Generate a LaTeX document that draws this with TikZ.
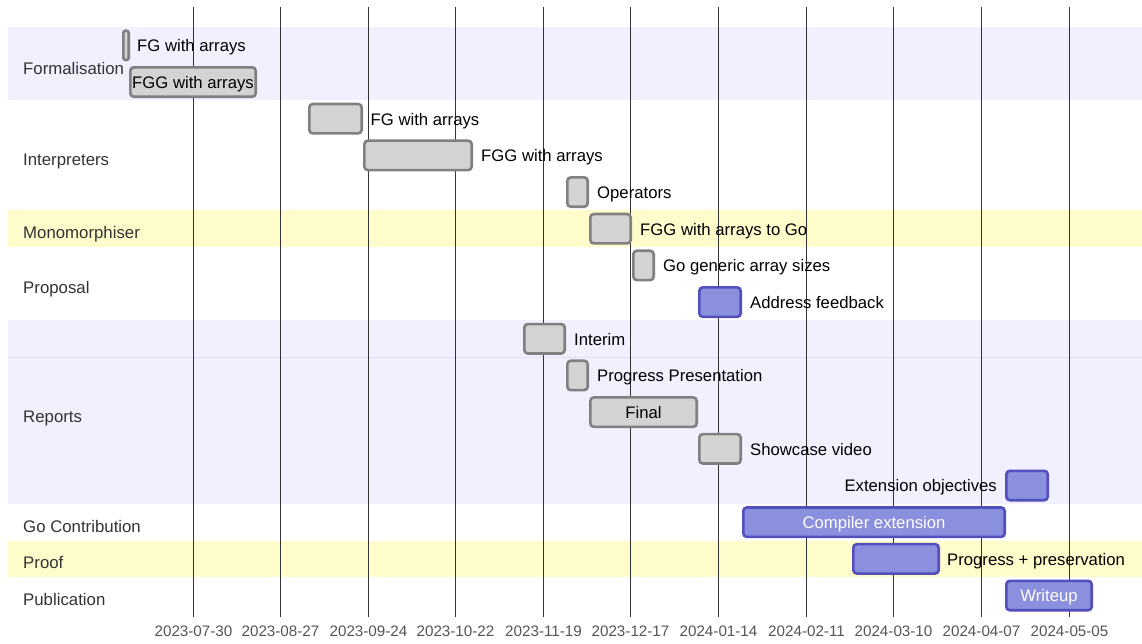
\documentclass[tikz,border=0pt]{standalone}
\usepackage{fontspec}
\setmainfont{Liberation Sans}
\definecolor{lav}{HTML}{F0F0FF}
\definecolor{yel}{HTML}{FFFCCC}
\definecolor{gridc}{HTML}{333333}
\definecolor{donefill}{HTML}{D3D3D3}
\definecolor{donedraw}{HTML}{808080}
\definecolor{actfill}{HTML}{8A90DD}
\definecolor{actdraw}{HTML}{534FBC}
\definecolor{sectext}{HTML}{333333}
\definecolor{ticktext}{HTML}{555555}
\definecolor{sepline}{HTML}{E0E0F6}
\tikzset{
  donebar/.style={fill=donefill, draw=donedraw, line width=2.6pt, rounded corners=3.5pt},
  actbar/.style={fill=actfill, draw=actdraw, line width=2.6pt, rounded corners=3.5pt},
  tasklabel/.style={font=\fontsize{16.7}{20}\selectfont, inner sep=0pt, anchor=base west, text=black},
  tasklabelr/.style={tasklabel, anchor=base east},
  innerlabel/.style={font=\fontsize{16.7}{20}\selectfont, inner sep=0pt, anchor=base},
  seclabel/.style={font=\fontsize{16.8}{20}\selectfont, inner sep=0pt, anchor=base west, text=sectext},
  ticklabel/.style={font=\fontsize{15.2}{18}\selectfont, inner sep=0pt, anchor=base, text=ticktext},
  gridline/.style={draw=gridc, line width=1pt},
}
\newcommand\ganttbar[4]{\draw[#1] (#2+1.3, #4-14.7) rectangle (#3-1.3, #4+14.7);}
\begin{document}
\begin{tikzpicture}[x=1pt, y=-1pt]
\useasboundingbox (0,0) rectangle (1142,643);
% section bands
\fill[lav] (8,27) rectangle (1142,100.36);
\fill[yel] (8,210.4) rectangle (1142,247.08);
\fill[lav] (8,320.44) rectangle (1142,503.84);
\fill[yel] (8,540.52) rectangle (1142,577.2);
\draw[sepline, line width=0.8pt] (8,357.12) -- (1142,357.12);
% grid lines and ticks
\foreach \gx/\d [count=\k from 0] in {193.5/2023-07-30,280.5/2023-08-27,368.5/2023-09-24,455.5/2023-10-22,543.5/2023-11-19,630.5/2023-12-17,718.5/2024-01-14,806.5/2024-02-11,893.5/2024-03-10,981.5/2024-04-07,1069.5/2024-05-05} {
  \coordinate (gt\k) at (\gx, 7);
  \coordinate (gb\k) at (\gx, 617);
  \draw[gridline] (gt\k) -- (gb\k);
  \node[ticklabel] (tick\k) at (\gx, 636.5) {\d};
}
% section labels
\node[seclabel] (s1) at (23,74) {Formalisation};
\node[seclabel] (s2) at (23,165) {Interpreters};
\node[seclabel] (s3) at (23,238) {Monomorphiser};
\node[seclabel] (s4) at (23,293) {Proposal};
\node[seclabel] (s5) at (23,422) {Reports};
\node[seclabel] (s6) at (23,532) {Go Contribution};
\node[seclabel] (s7) at (23,568.5) {Proof};
\node[seclabel] (s8) at (23,605) {Publication};
% bars
\ganttbar{donebar, rounded corners=2.4pt}{122}{130}{45.34}
\ganttbar{donebar}{129}{257}{82.02}
\ganttbar{donebar}{308}{363}{118.7}
\ganttbar{donebar}{363}{473}{155.38}
\ganttbar{donebar}{566}{589}{192.06}
\ganttbar{donebar}{589}{632}{228.74}
\ganttbar{donebar}{632}{655}{265.42}
\ganttbar{actbar}{698}{742}{302.1}
\ganttbar{donebar}{523}{566}{338.78}
\ganttbar{donebar}{566}{589}{375.46}
\ganttbar{donebar}{589}{698}{412.14}
\ganttbar{donebar}{698}{742}{448.82}
\ganttbar{actbar}{1005}{1049}{485.5}
\ganttbar{actbar}{742}{1006}{522.18}
\ganttbar{actbar}{852}{940}{558.86}
\ganttbar{actbar}{1005}{1093}{595.54}
% task labels
\node[tasklabel] (t1) at (137,51.6) {FG with arrays};
\node[innerlabel, text=black] (t2) at (193,88.3) {FGG with arrays};
\node[tasklabel] (t3) at (370.5,125) {FG with arrays};
\node[tasklabel] (t4) at (481,161.7) {FGG with arrays};
\node[tasklabel] (t5) at (597,198.4) {Operators};
\node[tasklabel] (t6) at (640,235) {FGG with arrays to Go};
\node[tasklabel] (t7) at (663,271.7) {Go generic array sizes};
\node[tasklabel] (t8) at (750,308.4) {Address feedback};
\node[tasklabel] (t9) at (574,345.1) {Interim};
\node[tasklabel] (t10) at (597,381.8) {Progress Presentation};
\node[innerlabel, text=black] (t11) at (643.5,418.4) {Final};
\node[tasklabel] (t12) at (750,455.1) {Showcase video};
\node[tasklabelr] (t13) at (997,491.8) {Extension objectives};
\node[innerlabel, text=white] (t14) at (874,528.5) {Compiler extension};
\node[tasklabel] (t15) at (947,565.2) {Progress + preservation};
\node[innerlabel, text=white] (t16) at (1049,601.8) {Writeup};
\end{tikzpicture}
\end{document}
